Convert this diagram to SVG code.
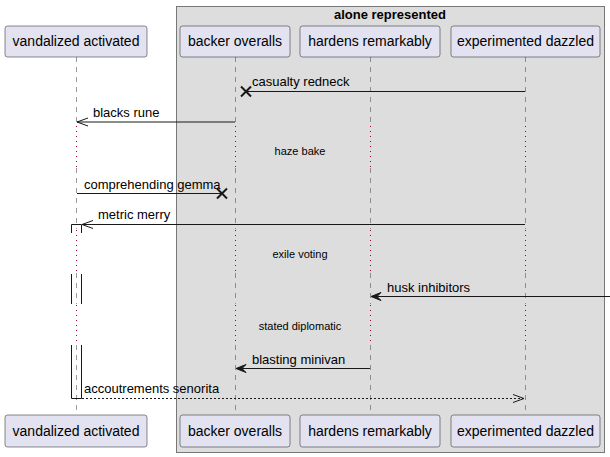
<svg xmlns="http://www.w3.org/2000/svg" width="610" height="457" viewBox="0 0 610 457">
<style>
.part rect{fill:#E2E2F0;stroke:#181818;stroke-width:0.5}
.part text{font-family:"Liberation Sans",Arial,sans-serif;font-size:14px;fill:#000;text-anchor:middle}
.life{stroke:#555;stroke-width:0.6;stroke-dasharray:5,5;fill:none}
.delay{stroke:#A80036;stroke-width:1;stroke-dasharray:1,4;fill:none}
.msg{stroke:#181818;stroke-width:1;fill:none}
.dash{stroke-dasharray:2,2}
.lbl{font-family:"Liberation Sans",Arial,sans-serif;font-size:13px;fill:#000}
.dl{font-family:"Liberation Sans",Arial,sans-serif;font-size:11px;fill:#000;text-anchor:middle}
.x{stroke:#181818;stroke-width:2}
.act{fill:#fff;stroke:#181818;stroke-width:1}
</style>
<g id="group-box">
<rect x="176.5" y="6.5" width="428" height="446" fill="#DDDDDD" stroke="#777" stroke-width="1"/>
<text x="390" y="19" font-family="Liberation Sans,Arial,sans-serif" font-size="13" font-weight="bold" text-anchor="middle">alone represented</text>
</g>
<g id="lifelines">
<path class="life" d="M76.5,57V125M76.5,168V229M76.5,273V304M76.5,345V415"/>
<path class="life" d="M235.5,57V125M235.5,168V229M235.5,273V304M235.5,345V415"/>
<path class="life" d="M370.5,57V125M370.5,168V229M370.5,273V304M370.5,345V415"/>
<path class="life" d="M525.5,57V125M525.5,168V229M525.5,273V304M525.5,345V415"/>
<path class="delay" d="M76.5,126V168M235.5,126V168M370.5,126V168M525.5,126V168"/>
<path class="delay" d="M76.5,230V273M235.5,230V273M370.5,230V273M525.5,230V273"/>
<path class="delay" d="M76.5,305V345M235.5,305V345M370.5,305V345M525.5,305V345"/>
</g>
<g id="activation">
<path class="msg" d="M71.5,233V224.5H81.5V233"/>
<path class="msg" d="M71.5,274V304M81.5,274V304"/>
<path class="msg" d="M71.5,345V398.5H81.5V345"/>
</g>
<g id="p-vandalized" class="part">
<rect x="5" y="26" width="142" height="31" rx="2.5"/><text x="76" y="46">vandalized activated</text>
<rect x="5" y="415" width="142" height="32" rx="2.5"/><text x="76" y="436">vandalized activated</text>
</g>
<g id="p-backer" class="part">
<rect x="180" y="26" width="110" height="31" rx="2.5"/><text x="235" y="46">backer overalls</text>
<rect x="180" y="415" width="110" height="32" rx="2.5"/><text x="235" y="436">backer overalls</text>
</g>
<g id="p-hardens" class="part">
<rect x="300" y="26" width="140" height="31" rx="2.5"/><text x="370" y="46">hardens remarkably</text>
<rect x="300" y="415" width="140" height="32" rx="2.5"/><text x="370" y="436">hardens remarkably</text>
</g>
<g id="p-experimented" class="part">
<rect x="451" y="26" width="149" height="31" rx="2.5"/><text x="525.5" y="46">experimented dazzled</text>
<rect x="451" y="415" width="149" height="32" rx="2.5"/><text x="525.5" y="436">experimented dazzled</text>
</g>
<g id="connectors">
<line class="msg" x1="525" y1="91.5" x2="247" y2="91.5"/>
<path class="x" d="M241,86.5L251,96.5M251,86.5L241,96.5"/>
<text class="lbl" x="252" y="86">casualty redneck</text>

<line class="msg" x1="235" y1="122" x2="77" y2="122"/>
<path class="msg" d="M88,118L77,122L88,126"/>
<text class="lbl" x="93" y="117">blacks rune</text>

<text class="dl" x="300" y="155">haze bake</text>

<line class="msg" x1="77" y1="193.5" x2="222" y2="193.5"/>
<path class="x" d="M217,188.5L227,198.5M227,188.5L217,198.5"/>
<text class="lbl" x="84" y="189">comprehending gemma</text>

<line class="msg" x1="525" y1="224.5" x2="82" y2="224.5"/>
<path class="msg" d="M93,220.5L82,224.5L93,228.5"/>
<text class="lbl" x="98" y="219">metric merry</text>

<text class="dl" x="300" y="258">exile voting</text>

<line class="msg" x1="610" y1="296.5" x2="373" y2="296.5"/>
<path d="M371,296.5L381,292.5L377,296.5L381,300.5Z" fill="#181818" stroke="#181818"/>
<text class="lbl" x="387" y="292">husk inhibitors</text>

<text class="dl" x="300" y="330">stated diplomatic</text>

<line class="msg" x1="370" y1="368.5" x2="238" y2="368.5"/>
<path d="M236,368.5L246,364.5L242,368.5L246,372.5Z" fill="#181818" stroke="#181818"/>
<text class="lbl" x="252" y="364">blasting minivan</text>

<line class="msg dash" x1="82" y1="398.5" x2="524" y2="398.5"/>
<path class="msg" d="M513,394.5L524,398.5L513,402.5"/>
<text class="lbl" x="84" y="393">accoutrements senorita</text>
</g>
</svg>
